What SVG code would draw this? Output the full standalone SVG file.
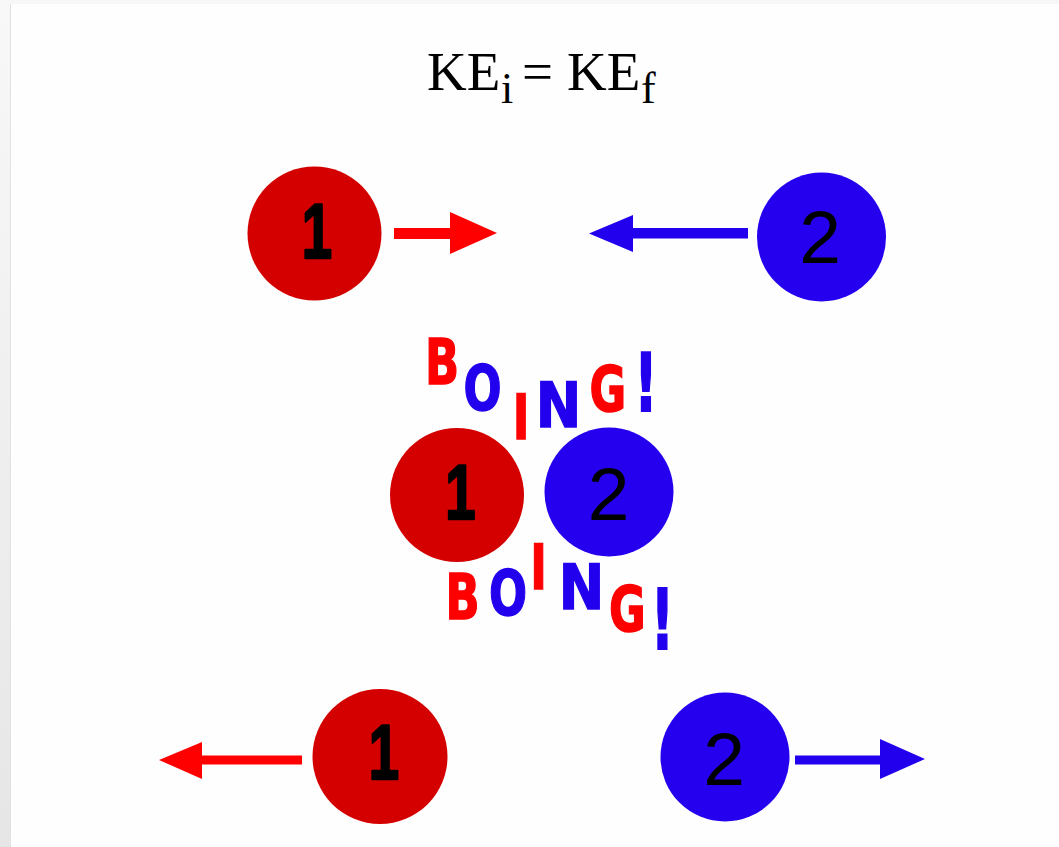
<svg xmlns="http://www.w3.org/2000/svg" width="1059" height="847" viewBox="0 0 1059 847">
<defs>
<linearGradient id="side" x1="0" y1="0" x2="0" y2="1">
<stop offset="0" stop-color="#f8f8f8"/>
<stop offset="1" stop-color="#e6e6e6"/>
</linearGradient>
<style>
.red{fill:#d40000}
.blue{fill:#2400ee}
.digit{font-family:"Liberation Sans",Arial,sans-serif;fill:#000;text-anchor:middle}
.d1{font-size:78px;font-weight:bold;stroke:#000;stroke-width:2.5;stroke-linejoin:round}
.d2{font-size:75px}
.lt{font-family:"DejaVu Sans",sans-serif;font-weight:bold;font-size:64px;text-anchor:middle;stroke-width:1.5}
.lr{fill:#ff0000;stroke:#ff0000}
.lb{fill:#2200ee;stroke:#2200ee}
.title{font-family:"Liberation Serif","Times New Roman",serif;fill:#000}
.ar{fill:#ff0000}
.ab{fill:#2200ee}
</style>
</defs>
<rect width="1059" height="847" fill="#fefefe"/>
<rect x="0" y="0" width="1059" height="4" fill="#f7f7f7"/>
<rect x="0" y="0" width="10" height="847" fill="url(#side)"/>
<rect x="10" y="4" width="1" height="843" fill="#e2e2e2"/>

<g id="title">
<text class="title" font-size="55"><tspan x="427" y="90">KE</tspan><tspan x="501" y="103" font-size="44">i</tspan><tspan x="522" y="90">=</tspan><tspan x="567" y="90">KE</tspan><tspan x="641" y="103" font-size="44">f</tspan></text>
</g>

<g id="connectors">
<g id="arrow-top-1">
<rect class="ar" x="394" y="228" width="57" height="11"/>
<polygon class="ar" points="450,212 497,233 450,254"/>
</g>
<g id="arrow-top-2">
<rect class="ab" x="632" y="228" width="116" height="10.5"/>
<polygon class="ab" points="589,233.5 633,215 633,252"/>
</g>
<g id="arrow-bottom-1">
<rect class="ar" x="201" y="755.5" width="101" height="9"/>
<polygon class="ar" points="159,760 202,742 202,779"/>
</g>
<g id="arrow-bottom-2">
<rect class="ab" x="795" y="755.5" width="86" height="9"/>
<polygon class="ab" points="880,739 925,759 880,779"/>
</g>
</g>

<g id="ball-top-1">
<circle class="red" cx="314.5" cy="233.5" r="67"/>
<text class="digit d1" transform="translate(317,258) scale(0.7,1)">1</text>
</g>
<g id="ball-top-2">
<circle class="blue" cx="821.5" cy="237" r="64.5"/>
<text class="digit d2" x="820" y="263">2</text>
</g>

<g id="ball-mid-1">
<circle class="red" cx="457" cy="495" r="67"/>
<text class="digit d1" transform="translate(460.5,519) scale(0.7,1)">1</text>
</g>
<g id="ball-mid-2">
<circle class="blue" cx="609" cy="492" r="64.5"/>
<text class="digit d2" x="608.5" y="520">2</text>
</g>

<g id="boing-top">
<text class="lt lr" transform="translate(442,384) scale(0.7,0.98)">B</text>
<text class="lt lb" transform="translate(482.5,410) scale(0.7,0.98)">O</text>
<text class="lt lr" transform="translate(521,439) scale(0.7,0.98)">I</text>
<text class="lt lb" transform="translate(558.5,427) scale(0.85,0.98)">N</text>
<text class="lt lr" transform="translate(608,411) scale(0.7,0.98)">G</text>
<text class="lt lb" transform="translate(646,411) scale(0.8,1.25)">!</text>
</g>

<g id="boing-bottom">
<text class="lt lr" transform="translate(462.5,619) scale(0.7,0.98)">B</text>
<text class="lt lb" transform="translate(508,615) scale(0.7,0.98)">O</text>
<text class="lt lr" transform="translate(538.5,589) scale(0.7,0.98)">I</text>
<text class="lt lb" transform="translate(581.5,609) scale(0.85,0.98)">N</text>
<text class="lt lr" transform="translate(627.5,631) scale(0.7,0.98)">G</text>
<text class="lt lb" transform="translate(662.5,649) scale(0.8,1.32)">!</text>
</g>

<g id="ball-bottom-1">
<circle class="red" cx="380" cy="756.5" r="67.5"/>
<text class="digit d1" transform="translate(384,779) scale(0.7,1)">1</text>
</g>
<g id="ball-bottom-2">
<circle class="blue" cx="725" cy="757" r="64.5"/>
<text class="digit d2" x="724" y="785">2</text>
</g>
</svg>
